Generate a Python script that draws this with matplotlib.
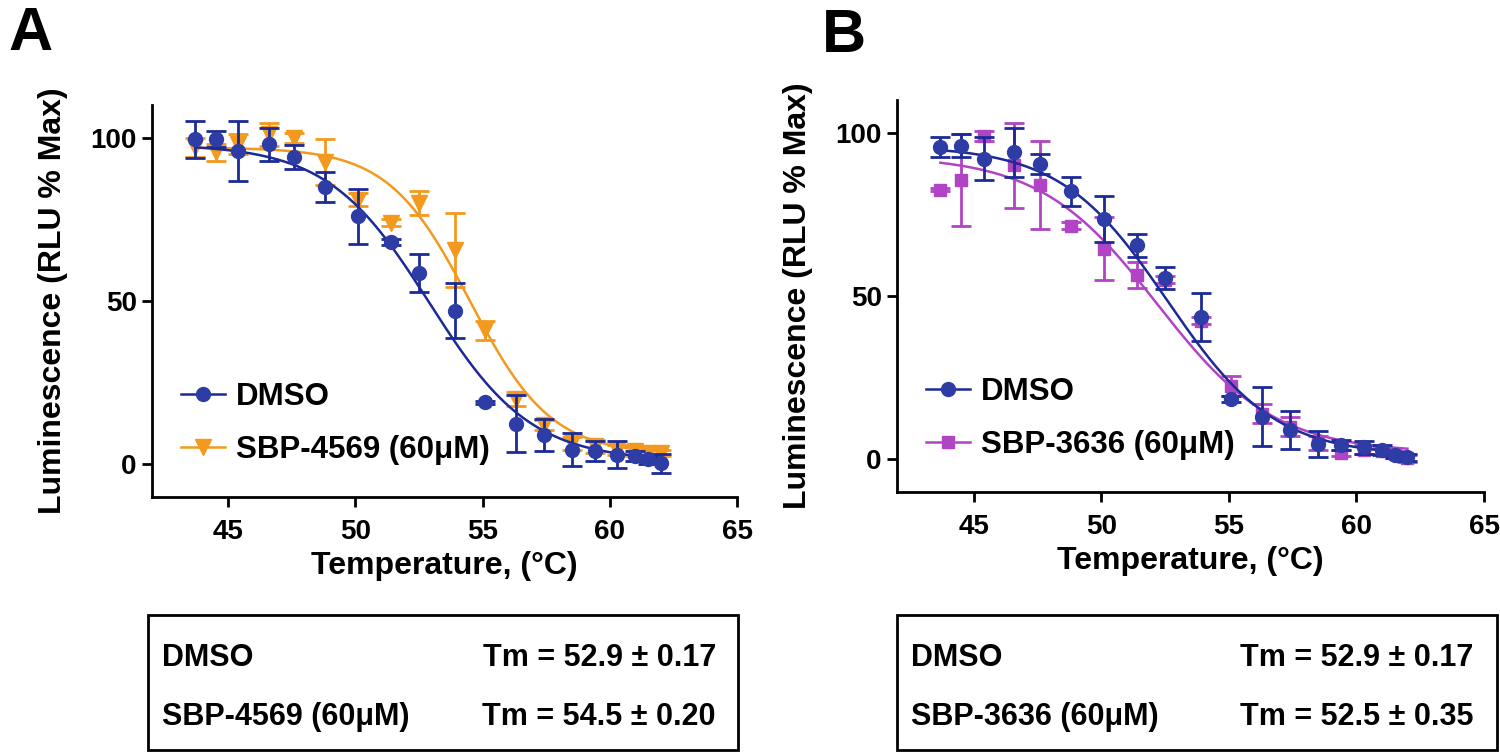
import numpy as np
import matplotlib
matplotlib.use("Agg")
import matplotlib.pyplot as plt
from matplotlib.lines import Line2D
from matplotlib.patches import Rectangle

plt.rcParams['font.family'] = ['Liberation Sans', 'DejaVu Sans']
plt.rcParams['font.weight'] = 'bold'

# temperatures of the thermal gradient (deg C)
temps = [43.7, 44.5, 45.4, 46.6, 47.6, 48.8, 50.1, 51.4, 52.5, 53.9,
         55.1, 56.3, 57.4, 58.5, 59.4, 60.3, 61.0, 61.5, 62.0]

# panel A
dmso_a = [99.5, 99.5, 96, 98, 94, 85, 76, 68, 58.5, 47,
          19, 12.5, 9, 4.5, 4, 3, 2.5, 1.5, 0.3]
dmso_a_err = [5.7, 2.5, 9.2, 5, 3.7, 4.6, 8.4, 1, 5.8, 8.4,
              0.5, 8.7, 5, 5, 3, 4, 1.5, 1.5, 3]
sbp4569 = [97, 95.5, 98, 101, 100, 92.5, 81, 74, 80, 65.5,
           41, 20, 12, 6.5, 5.5, 4.5, 4, 3.5, 3.5]
sbp4569_err = [3, 2.5, 3, 3.5, 1.5, 7, 2, 1, 3.8, 11.3,
               3, 2, 1.5, 2, 2, 1.5, 1.5, 1, 1]

# panel B
dmso_b = [95.7, 96, 92, 94, 90.5, 82, 73.5, 65.5, 55.5, 43.5,
          18.5, 13, 9, 4.7, 4.4, 3.7, 2.8, 1.3, 0.6]
dmso_b_err = [3, 3.5, 6.6, 7.5, 3, 4.5, 7, 3.5, 3.5, 7.4,
              1, 9, 5.8, 3.9, 1.5, 2, 1.5, 1, 1]
sbp3636 = [82.5, 85.5, 99, 90, 84, 71.5, 64.5, 56.5, 55, 42.5,
           22.5, 14, 10, 5, 2, 3, 2.5, 1.5, 0.3]
sbp3636_err = [0.5, 14, 1.5, 13, 13.5, 1, 9.7, 4, 1, 1,
               3, 3, 3, 2, 1, 1.5, 1, 1, 1]

# Boltzmann fit parameters: top, bottom, Tm, slope
fit_dmso_a = [98, 1, 52.9, 2.0]
fit_sbp4569 = [97, 3, 54.5, 1.6]
fit_dmso_b = [96, 1, 52.6, 2.1]
fit_sbp3636 = [93, 2, 52.2, 2.3]

table_a = [("DMSO", "Tm = 52.9 ± 0.17"), ("SBP-4569 (60μM)", "Tm = 54.5 ± 0.20")]
table_b = [("DMSO", "Tm = 52.9 ± 0.17"), ("SBP-3636 (60μM)", "Tm = 52.5 ± 0.35")]

BLUE = '#2E3DA6'
BLUE_LINE = '#1B2A96'
ORANGE = '#F39A1E'
MAGENTA = '#B044C4'

W, H = 1500, 756


def boltzmann(t, p):
    top, bottom, tm, slope = p
    return bottom + (top - bottom) / (1 + np.exp((t - tm) / slope))


def draw_series(ax, y, err, fit, color, linecolor, marker, ms, z):
    t = np.array(temps)
    ax.errorbar(t, y, yerr=err, fmt=marker, color=color, ms=ms, mec=color,
                ecolor=linecolor, elinewidth=2, capsize=7, capthick=2, zorder=z)
    tt = np.linspace(t[0], t[-1], 300)
    ax.plot(tt, boltzmann(tt, fit), color=linecolor, lw=1.8, zorder=z)


def panel(rect, series, labels, letter, letter_xy, box, rows, tm_x):
    ax = fig.add_axes(rect)
    for s in series:
        draw_series(ax, *s)
    ax.set_xlim(42, 65)
    ax.set_ylim(-10, 110)
    ax.set_xticks([45, 50, 55, 60, 65])
    ax.set_yticks([0, 50, 100])
    for side in ['top', 'right']:
        ax.spines[side].set_visible(False)
    for side in ['left', 'bottom']:
        ax.spines[side].set_linewidth(2)
    ax.tick_params(width=2, length=7, labelsize=20, pad=4)
    ax.tick_params(axis='x', pad=9)
    ax.set_xlabel("Temperature, (°C)", fontsize=23, fontweight='bold', labelpad=4)
    ax.set_ylabel("Luminescence (RLU % Max)", fontsize=23, fontweight='bold', labelpad=16)

    handles = []
    for s in series:
        handles.append(Line2D([], [], color=s[4], lw=1.8, marker=s[5],
                              ms=s[6], mfc=s[3], mec=s[3]))
    ax.legend(handles, labels, loc='lower left', bbox_to_anchor=(0.012, 0.025),
              frameon=False, fontsize=22.5, handlelength=1.4, handletextpad=0.35,
              labelspacing=0.75, borderpad=0.2)

    fig.text(letter_xy[0] / W, 1 - letter_xy[1] / H, letter, fontsize=44,
             fontweight='bold', ha='left', va='center')

    x0, y0, x1, y1 = box
    fig.patches.append(Rectangle((x0 / W, 1 - y1 / H), (x1 - x0) / W, (y1 - y0) / H,
                                 transform=fig.transFigure, fill=False,
                                 lw=2, ec='black'))
    for (name, tm), yy in zip(rows, [658, 717]):
        fig.text((x0 + 14) / W, 1 - yy / H, name, fontsize=22, fontweight='bold',
                 ha='left', va='center')
        fig.text(tm_x / W, 1 - yy / H, tm, fontsize=22, fontweight='bold',
                 ha='right', va='center')
    return ax


fig = plt.figure(figsize=(15, 7.56), dpi=100)

panel([152 / W, 1 - 497 / H, 585 / W, 392 / H],
      [(dmso_a, dmso_a_err, fit_dmso_a, BLUE, BLUE_LINE, 'o', 10, 3),
       (sbp4569, sbp4569_err, fit_sbp4569, ORANGE, ORANGE, 'v', 11, 2)],
      ["DMSO", "SBP-4569 (60μM)"], "A", (8, 35),
      (148, 615, 738, 750), table_a, 716)

panel([897 / W, 1 - 492 / H, 587 / W, 392 / H],
      [(dmso_b, dmso_b_err, fit_dmso_b, BLUE, BLUE_LINE, 'o', 10, 3),
       (sbp3636, sbp3636_err, fit_sbp3636, MAGENTA, MAGENTA, 's', 9, 2)],
      ["DMSO", "SBP-3636 (60μM)"], "B", (822, 37),
      (897, 615, 1497, 750), table_b, 1473)

fig.savefig("out.png", dpi=100)
